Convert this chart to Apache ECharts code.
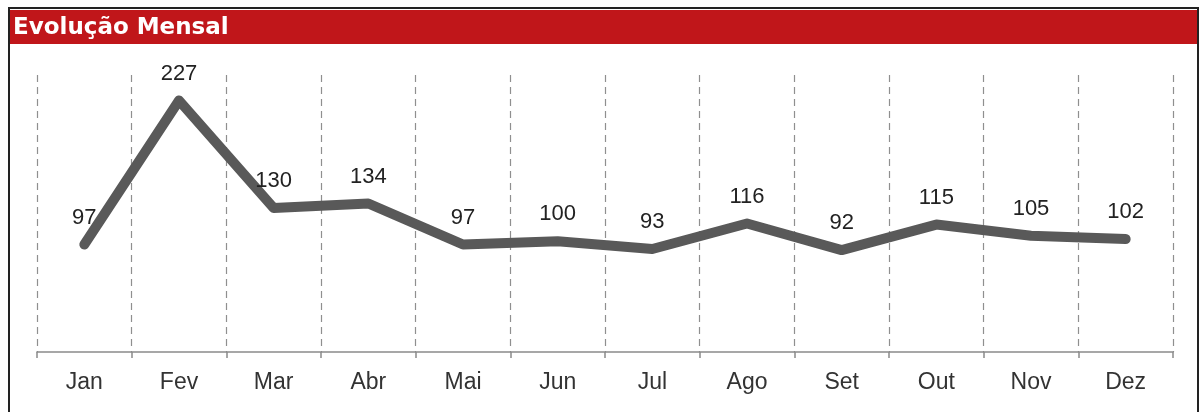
<!DOCTYPE html>
<html><head><meta charset="utf-8">
<script src="https://cdn.jsdelivr.net/npm/echarts@6/dist/echarts.min.js"></script>
<style>html,body{margin:0;padding:0;background:#fff;}#c{width:1200px;height:412px;}</style>
</head><body><div id="c"></div>
<script>
const titleText = 'Evolução Mensal';
const months = ['Jan','Fev','Mar','Abr','Mai','Jun','Jul','Ago','Set','Out','Nov','Dez'];
const values = [97,227,130,134,97,100,93,116,92,115,105,102];

const chart = echarts.init(document.getElementById('c'));
chart.setOption({
  animation: false,
  backgroundColor: '#fff',
  graphic: [
    {type:'rect', shape:{x:9, y:8, width:1189, height:420}, style:{fill:'none', stroke:'#222', lineWidth:2}, z:0},
    {type:'rect', shape:{x:10, y:10, width:1187, height:34}, style:{fill:'#C0161A'}, z:1},
    {type:'text', left:13, top:17, style:{text:titleText, fill:'#fff', font:'bold 23px "DejaVu Sans"'}, z:2}
  ],
  grid: {left:37, right:27, top:75, bottom:60},
  xAxis: {
    type:'category', data: months, boundaryGap: true,
    axisLine:{lineStyle:{color:'#8a8a8a', width:1.5}},
    axisTick:{show:true, length:6, lineStyle:{color:'#8a8a8a', width:1.5}},
    axisLabel:{color:'#333', fontSize:23, fontFamily:'Liberation Sans', margin:19},
    splitLine:{show:true, showMinLine:true, showMaxLine:true, lineStyle:{color:'#8f8f8f', type:[7,5], width:1.2}}
  },
  yAxis: {
    type:'value', min:0, max:250, interval:50,
    axisLine:{show:false}, axisTick:{show:false}, axisLabel:{show:false}, splitLine:{show:false}
  },
  series: [{
    type:'line', data: values, symbol:'circle', symbolSize:2, showSymbol:true,
    itemStyle:{color:'#595959'},
    lineStyle:{color:'#595959', width:10, cap:'round', join:'round'},
    label:{show:true, position:'top', distance:15, color:'#222', fontSize:22, fontFamily:'Liberation Sans'}
  }]
});
</script></body></html>
